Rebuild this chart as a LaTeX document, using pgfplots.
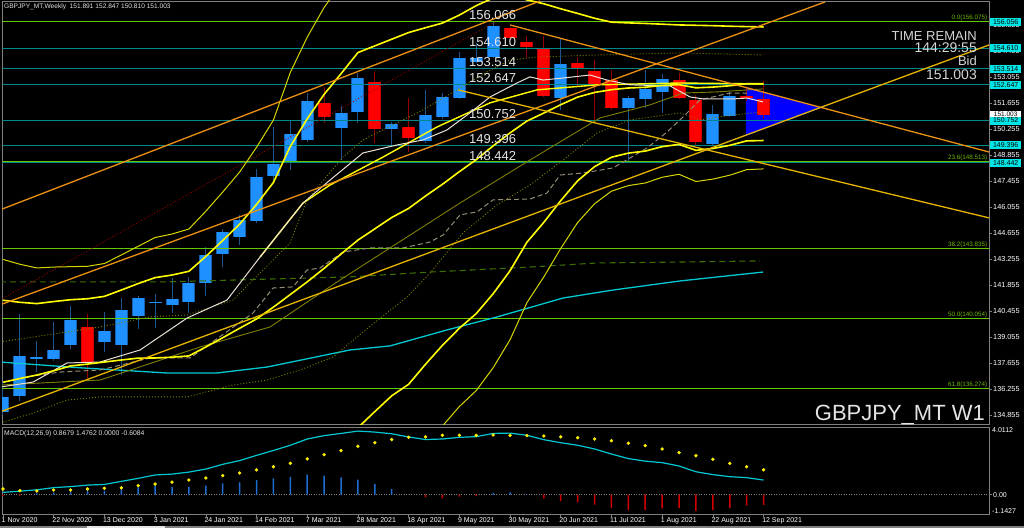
\documentclass[border=0pt]{standalone}
\usepackage{pgfplots}
\pgfplotsset{compat=1.18}
\usepackage{pgfplotstable}
\usepackage{fontspec}
\setmainfont{Liberation Sans}
\definecolor{fibgreen}{RGB}{100,200,0}
\definecolor{fibtext}{RGB}{110,185,0}
\definecolor{tealline}{RGB}{0,135,135}
\definecolor{bodyblue}{RGB}{30,144,255}
\definecolor{edgeblue}{RGB}{25,95,175}
\definecolor{wickblue}{RGB}{30,85,145}
\definecolor{bodyred}{RGB}{255,0,0}
\definecolor{edgered}{RGB}{200,0,0}
\definecolor{wickred}{RGB}{150,0,0}
\definecolor{brightyel}{RGB}{255,255,0}
\definecolor{thinyel}{RGB}{215,215,0}
\definecolor{olivec}{RGB}{128,128,0}
\definecolor{darkredc}{RGB}{150,0,0}
\definecolor{tanc}{RGB}{150,140,120}
\definecolor{whitema}{RGB}{235,225,215}
\definecolor{cyanma}{RGB}{0,200,210}
\definecolor{greendash}{RGB}{60,110,0}
\definecolor{orangec}{RGB}{235,145,20}
\definecolor{goldc}{RGB}{230,180,0}
\definecolor{boxcyan}{RGB}{0,230,230}
\definecolor{histblue}{RGB}{30,110,210}
\definecolor{histred}{RGB}{210,0,0}
\definecolor{lbl}{RGB}{228,228,228}
\newcommand{\fs}[1]{\fontsize{#1}{#1}\selectfont}

\pgfplotstableread{
i o h l c
0 135.02 136.63 134.86 135.83
1 135.88 140.30 135.61 138.04
2 137.87 138.84 137.17 137.98
3 137.87 139.87 137.77 138.36
4 138.63 140.73 138.41 139.98
6 138.79 140.41 138.25 139.38
7 138.63 141.16 137.01 140.52
8 140.19 141.27 139.49 141.16
9 140.89 141.38 139.55 140.95
10 140.79 142.24 140.35 141.11
11 140.95 142.29 140.35 141.97
12 141.97 143.91 141.27 143.48
13 143.53 144.88 142.83 144.72
14 144.45 145.64 144.02 145.37
15 145.31 148.12 145.21 147.69
16 147.74 150.38 147.36 148.39
17 148.44 150.70 148.06 150.00
18 149.68 152.21 149.57 151.78
20 150.33 151.51 148.60 151.14
21 151.19 153.29 150.60 153.02
23 150.27 150.65 149.41 150.54
25 149.63 152.38 149.52 151.03
26 150.92 152.21 150.81 152.00
27 151.94 154.42 151.89 154.10
28 153.89 154.91 153.83 154.10
29 154.16 156.07 154.10 155.83
33 151.94 155.13 151.30 153.78
37 151.41 152.05 148.44 151.94
38 151.89 153.45 151.41 152.43
39 152.27 153.24 151.14 152.97
42 149.46 151.57 149.36 151.08
43 150.97 152.27 150.92 152.05
}\bull

\pgfplotstableread{
i o h l c
5 139.60 140.30 136.80 137.71
19 151.67 152.54 150.60 150.92
22 152.81 153.35 149.52 150.27
24 150.38 151.94 149.03 149.79
30 155.72 155.77 155.07 155.18
31 154.96 155.29 154.10 154.69
32 154.59 155.29 152.00 152.05
34 153.83 154.16 152.54 153.51
35 153.40 153.99 150.76 152.65
36 152.91 153.45 151.30 151.41
40 152.91 153.29 151.89 151.94
41 151.84 152.11 149.41 149.57
44 152.05 152.48 151.78 151.94
45 151.891 152.847 150.810 151.003
}\bear

\pgfplotstableread{
i mid up2 lo2 up3 lo3
0 136.62 141.04 132.21 143.24 130.00
1 136.82 140.93 132.71 142.98 130.66
2 137.01 140.86 133.16 142.78 131.24
3 137.24 140.97 133.52 142.83 131.65
4 137.50 141.07 133.93 142.85 132.15
5 137.60 141.12 134.09 142.87 132.33
6 137.71 141.25 134.17 143.02 132.40
7 137.82 141.59 134.05 143.48 132.16
8 137.92 141.94 133.90 143.95 131.89
9 137.93 142.26 133.60 144.42 131.44
10 137.97 142.40 133.54 144.61 131.33
11 138.04 142.60 133.48 144.88 131.20
12 138.52 143.40 133.64 145.84 131.20
13 139.02 144.26 133.79 146.87 131.17
14 139.53 145.14 133.92 147.95 131.11
15 140.03 146.20 133.86 149.28 130.78
16 140.67 147.39 133.95 150.75 130.59
17 141.35 149.33 133.37 153.32 129.38
18 142.03 150.82 133.24 155.22 128.85
19 142.76 152.14 133.39 156.82 128.70
20 143.53 153.25 133.81 158.11 128.95
21 144.28 154.39 134.17 159.44 129.12
22 144.89 154.75 135.04 159.67 130.11
23 145.50 155.11 135.89 159.92 131.08
24 145.99 155.47 136.51 160.21 131.77
25 146.66 155.73 137.59 160.26 133.06
26 147.29 155.98 138.61 160.32 134.26
27 147.97 156.41 139.53 160.63 135.31
28 148.62 156.92 140.32 161.07 136.17
29 149.36 157.33 141.39 161.32 137.40
30 150.06 157.49 142.63 161.21 138.91
31 150.70 157.23 144.17 160.49 140.91
32 151.13 157.02 145.24 159.96 142.30
33 151.58 156.75 146.41 159.34 143.83
34 151.99 156.50 147.48 158.75 145.23
35 152.24 156.24 148.24 158.24 146.24
36 152.39 156.03 148.75 157.86 146.92
37 152.48 155.99 148.97 157.75 147.22
38 152.52 155.96 149.08 157.68 147.36
39 152.62 155.92 149.32 157.57 147.67
40 152.66 155.88 149.44 157.49 147.83
41 152.49 155.86 149.12 157.54 147.44
42 152.53 155.84 149.22 157.50 147.57
43 152.60 155.81 149.39 157.42 147.78
44 152.71 155.79 149.63 157.34 148.08
45 152.71 155.77 149.65 157.30 148.12
}\bb

\pgfplotstableread{
i macd sig
0 0.14 0.34
1 0.21 0.24
2 0.29 0.22
3 0.42 0.28
4 0.48 0.28
5 0.57 0.34
6 0.61 0.38
7 0.79 0.41
8 0.97 0.54
9 1.17 0.63
10 1.22 0.75
11 1.34 0.87
12 1.52 0.99
13 1.80 1.13
14 2.02 1.29
15 2.33 1.47
16 2.62 1.66
17 2.93 1.86
18 3.30 2.12
19 3.50 2.37
20 3.63 2.61
21 3.77 2.87
22 3.71 3.08
23 3.61 3.27
24 3.42 3.40
25 3.27 3.43
26 3.30 3.52
27 3.40 3.52
28 3.44 3.52
29 3.63 3.54
30 3.65 3.52
31 3.52 3.50
32 3.26 3.48
33 3.08 3.43
34 2.93 3.38
35 2.71 3.30
36 2.41 3.20
37 2.14 3.05
38 1.99 2.91
39 1.90 2.71
40 1.70 2.49
41 1.36 2.31
42 1.19 2.10
43 1.07 1.86
44 1.01 1.66
45 0.8679 1.4762
}\macd

\begin{document}
\begin{tikzpicture}[x=1pt,y=1pt]
\fill[black] (0,0) rectangle (1024,528);
\useasboundingbox (0,0) rectangle (1024,528);

\begin{axis}[
 at={(2pt,103.5pt)}, anchor=south west, scale only axis,
 width=987pt, height=423.5pt,
 xmin=-0.059, xmax=58.34, ymin=134.343, ymax=157.17,
 axis background/.style={fill=black},
 axis line style={draw=gray, line width=0.8pt},
 xtick=\empty,
 ytick={134.855,136.255,137.655,139.055,140.455,141.855,143.255,144.655,146.055,147.455,148.855,150.255,151.655,153.055,154.455,155.855},
 yticklabels={134.855,136.255,137.655,139.055,140.455,141.855,143.255,144.655,146.055,147.455,148.855,150.255,151.655,153.055,154.455,155.855},
 ytick pos=right, yticklabel pos=right,
 tick align=outside, major tick length=3pt,
 tick style={draw=gray, line width=0.6pt},
 yticklabel style={font=\fs{7.3}, text=white, inner sep=0pt, xshift=1pt},
 clip mode=individual,
]
% triangle
\addplot[fill=blue, draw=none] coordinates {(43.96,152.52) (43.96,149.90) (48.4,151.40) (43.96,152.52)};
% candles: wicks
\addplot[draw=none, mark=none, forget plot, error bars/.cd, y dir=minus, y explicit, error mark=none,
  error bar style={draw=wickblue, line width=1pt}] table[x=i, y=h, y error minus expr=\thisrow{h}-\thisrow{l}] {\bull};
\addplot[draw=none, mark=none, forget plot, error bars/.cd, y dir=minus, y explicit, error mark=none,
  error bar style={draw=wickred, line width=1pt}] table[x=i, y=h, y error minus expr=\thisrow{h}-\thisrow{l}] {\bear};
% bodies
\addplot[draw=none, mark=none, forget plot, error bars/.cd, y dir=minus, y explicit, error mark=none,
  error bar style={draw=edgeblue, line width=13pt}] table[x=i, y=c, y error minus expr=\thisrow{c}-\thisrow{o}] {\bull};
\addplot[draw=none, mark=none, forget plot, error bars/.cd, y dir=minus, y explicit, error mark=none,
  error bar style={draw=bodyblue, line width=11pt}] table[x=i, y=c, y error minus expr=\thisrow{c}-\thisrow{o}] {\bull};
\addplot[draw=none, mark=none, forget plot, error bars/.cd, y dir=minus, y explicit, error mark=none,
  error bar style={draw=edgered, line width=13pt}] table[x=i, y=o, y error minus expr=\thisrow{o}-\thisrow{c}] {\bear};
\addplot[draw=none, mark=none, forget plot, error bars/.cd, y dir=minus, y explicit, error mark=none,
  error bar style={draw=bodyred, line width=11pt}] table[x=i, y=o, y error minus expr=\thisrow{o}-\thisrow{c}] {\bear};

% horizontal levels
\foreach \p in {156.075,148.513,143.835,140.054,136.274}{
 \edef\temp{\noexpand\addplot[fibgreen, line width=1.4pt] coordinates {(-1,\p) (60,\p)};}\temp
}
\foreach \p in {154.610,153.514,152.647,150.752,149.396,148.442}{
 \edef\temp{\noexpand\addplot[tealline, line width=1pt] coordinates {(-1,\p) (60,\p)};}\temp
}

% MAs
\addplot[greendash, line width=1.1pt, dash pattern=on 6pt off 4pt] coordinates {(-0.18,142.03) (9.70,142.03) (13.61,142.13) (20.53,142.30) (25.27,142.56) (31.18,142.83) (35.15,143.05) (40.06,143.10) (44.79,143.16)};
\addplot[cyanma, line width=1.3pt] coordinates {(-0.18,137.71) (4.73,137.39) (9.70,137.12) (12.66,137.12) (15.62,137.44) (20.53,138.36) (22.90,138.58) (26.27,139.44) (29.23,140.14) (33.14,141.16) (36.09,141.59) (40.06,142.08) (44.97,142.56)};
\addplot[darkredc, line width=0.9pt, dash pattern=on 1pt off 2pt] coordinates {(-0.18,141.05) (29.11,156.04)};
\addplot[olivec, line width=0.9pt, dash pattern=on 1pt off 2pt] coordinates {(-0.18,138.79) (5.74,139.60) (8.70,140.14) (10.89,140.25) (13.61,141.05) (16.98,144.13) (17.99,146.45) (20.12,148.76) (21.30,149.68) (23.31,150.60) (24.85,151.30) (26.86,152.38) (28.64,153.35) (30.0,153.99) (31.60,154.15) (35.15,154.26) (40.06,154.37) (44.97,154.26)};
\addplot[olivec, line width=0.9pt, dash pattern=on 1pt off 2pt] coordinates {(-0.18,134.42) (1.78,134.96) (3.79,135.66) (5.74,135.83) (10.89,135.83) (13.61,136.47) (15.62,136.74) (17.57,137.28) (19.53,137.98) (21.30,139.33) (23.91,141.22) (25.27,142.51) (27.22,144.67) (29.23,146.18) (31.18,147.25) (33.14,148.60) (35.15,150.06) (37.10,150.76) (40.06,151.14) (41.24,150.76) (43.20,151.03) (44.97,151.19)};
\addplot[olivec, line width=0.9pt] coordinates {(-0.18,136.47) (5.74,136.74) (11.66,138.52) (15.80,139.60) (19.94,142.13) (27.04,146.28) (31.18,148.60) (35.33,150.87) (38.28,151.57) (40.24,152.21) (42.25,152.27) (44.97,152.43)};
\addplot[tanc, line width=1pt, dash pattern=on 5pt off 3pt] coordinates {(1.0,136.85) (3.37,137.17) (5.74,137.28) (8.70,137.93) (11.07,137.93) (14.79,140.35) (15.98,141.70) (17.16,141.76) (17.99,142.67) (18.76,142.78) (20.12,143.64) (21.72,143.86) (23.67,143.86) (25.27,144.18) (26.04,144.56) (27.04,145.64) (28.05,145.80) (28.99,146.45) (31.18,146.50) (32.19,146.82) (32.96,147.79) (34.32,147.90) (36.09,148.17) (38.11,149.25) (39.29,150.11) (40.24,150.92) (41.24,151.84) (43.02,152.21) (44.02,152.21)};
% yellow average running beside the white one
\addplot[brightyel, line width=1.4pt] coordinates {(15.21,143.37) (17.75,146.28) (19.35,147.25) (22.49,148.76) (25.68,150.38) (28.82,151.68) (31.60,152.38) (35.15,152.65) (40.06,152.75) (44.97,152.70)};
\addplot[whitema, line width=1pt] coordinates {(-0.18,136.36) (1.78,136.63) (3.79,137.66) (5.74,137.71) (8.11,138.36) (10.89,140.08) (13.25,141.05) (15.21,143.37) (17.75,146.28) (19.35,147.52) (21.30,148.98) (23.31,149.41) (24.85,149.68) (26.27,150.22) (27.63,151.14) (28.82,152.00) (30.41,152.75) (31.18,153.08) (31.95,152.91) (33.14,153.02) (34.73,153.18) (35.74,152.91) (37.10,152.65) (39.47,152.59) (40.65,152.00) (41.42,151.89) (43.20,151.89) (44.02,151.94) (44.97,151.73)};
% Bollinger bands
\addplot[thinyel, line width=1pt] table[x=i, y=up3] {\bb};
\addplot[thinyel, line width=1pt] table[x=i, y=lo3] {\bb};
\addplot[brightyel, line width=1.6pt] table[x=i, y=up2] {\bb};
\addplot[brightyel, line width=1.6pt] table[x=i, y=lo2] {\bb};
\addplot[brightyel, line width=1.6pt] table[x=i, y=mid] {\bb};
% trend lines
\addplot[orangec, line width=1.3pt] coordinates {(-0.18,145.91) (31.78,157.17)};
\addplot[orangec, line width=1.3pt] coordinates {(30.0,155.88) (58.34,149.03)};
\addplot[orangec, line width=1.3pt] coordinates {(-0.18,140.79) (48.64,157.12)};
\addplot[goldc, line width=1.3pt] coordinates {(-0.18,135.02) (58.34,154.80)};
\addplot[goldc, line width=1.3pt] coordinates {(26.92,152.38) (58.34,145.48)};

% big labels
\foreach \p/\t in {156.066/156.066,154.610/154.610,153.514/153.514,152.647/152.647,150.752/150.752,149.396/149.396,148.442/148.442}{
 \edef\temp{\noexpand\node[anchor=base west, text=lbl, font=\noexpand\fs{13}, inner sep=0pt, yshift=2pt] at (axis cs:27.57,\p) {\t};}\temp
}
% fib labels
\foreach \p/\t in {156.075/0.0(156.075),148.513/23.6(148.513),143.835/38.2(143.835),140.054/50.0(140.054),136.274/61.8(136.274)}{
 \edef\temp{\noexpand\node[anchor=base east, text=fibtext, font=\noexpand\fs{6.3}, inner sep=0pt, yshift=2pt, xshift=-1.5pt] at (axis cs:58.34,\p) {\t};}\temp
}
\coordinate (b0) at (axis cs:58.34,151.003);
\coordinate (b1) at (axis cs:58.34,156.056);
\coordinate (b2) at (axis cs:58.34,154.610);
\coordinate (b3) at (axis cs:58.34,153.514);
\coordinate (b4) at (axis cs:58.34,152.647);
\coordinate (b5) at (axis cs:58.34,150.752);
\coordinate (b6) at (axis cs:58.34,149.396);
\coordinate (b7) at (axis cs:58.34,148.442);
\end{axis}

% MACD panel
\begin{axis}[
 at={(2pt,14pt)}, anchor=south west, scale only axis,
 width=987pt, height=87pt,
 xmin=-0.059, xmax=58.34, ymin=-1.1427, ymax=4.0112,
 axis background/.style={fill=black},
 axis line style={draw=gray, line width=0.8pt},
 xtick={0,3,...,45},
 xticklabels={1 Nov 2020,22 Nov 2020,13 Dec 2020,3 Jan 2021,24 Jan 2021,14 Feb 2021,7 Mar 2021,28 Mar 2021,18 Apr 2021,9 May 2021,30 May 2021,20 Jun 2021,11 Jul 2021,1 Aug 2021,22 Aug 2021,12 Sep 2021},
 xtick pos=left, ytick pos=right, yticklabel pos=right,
 ytick={0}, yticklabels={0.00},
 tick align=outside, major tick length=3pt,
 tick style={draw=gray, line width=0.6pt},
 xticklabel style={anchor=north west, font=\fs{7}, text=white, inner sep=0pt, xshift=-1.5pt, yshift=-0.5pt},
 yticklabel style={font=\fs{7}, text=white, inner sep=0pt, xshift=1pt},
 clip mode=individual,
]
\addplot[gray, line width=0.7pt, dash pattern=on 1pt off 1.5pt] coordinates {(-1,0) (60,0)};
\addplot[ybar, bar width=1.5pt, bar shift=0pt, fill=histblue, draw=none] coordinates {(2,0.08) (3,0.14) (4,0.20) (5,0.24) (6,0.24) (7,0.38) (8,0.43) (9,0.54) (10,0.47) (11,0.47) (12,0.54) (13,0.67) (14,0.73) (15,0.87) (16,0.97) (17,1.06) (18,1.19) (19,1.13) (20,1.03) (21,0.90) (22,0.63) (23,0.34) (24,0.02) (29,0.11) (30,0.14) (31,0.02)};
\addplot[ybar, bar width=1.5pt, bar shift=0pt, fill=histred, draw=none] coordinates {(0,-0.09) (1,-0.05) (25,-0.16) (26,-0.22) (27,-0.12) (28,-0.08) (32,-0.22) (33,-0.36) (34,-0.45) (35,-0.59) (36,-0.79) (37,-0.91) (38,-0.91) (39,-0.81) (40,-0.79) (41,-0.95) (42,-0.91) (43,-0.79) (44,-0.65) (45,-0.6084)};
\addplot[cyanma, line width=1.2pt] table[x=i, y=macd] {\macd};
\addplot[only marks, mark=*, mark size=1.5pt, color=yellow] table[x=i, y=sig] {\macd};
\node[anchor=north west, font=\fs{7}, text=white, inner sep=0pt] at (axis cs:58.34,4.0112) {\hspace{3pt}4.0112};
\node[anchor=south west, font=\fs{7}, text=white, inner sep=0pt] at (axis cs:58.34,-1.1427) {\hspace{3pt}-1.1427};
\end{axis}

% price boxes
\tikzset{pbox/.style={fill=boxcyan, text=black, font=\fs{7}, inner xsep=1.5pt, inner ysep=0pt, minimum height=8pt, minimum width=31pt, anchor=west}}
\node[pbox, fill=white, minimum height=6.5pt, font=\fs{6.5}] at ([xshift=1pt,yshift=1pt]b0) {151.003};
\node[pbox] at ([xshift=1pt]b1) {156.056};
\node[pbox] at ([xshift=1pt]b2) {154.610};
\node[pbox] at ([xshift=1pt]b3) {153.514};
\node[pbox] at ([xshift=1pt]b4) {152.647};
\node[pbox] at ([xshift=1pt,yshift=-0.5pt]b5) {150.752};
\node[pbox] at ([xshift=1pt]b6) {149.396};
\node[pbox] at ([xshift=1pt]b7) {148.442};

% texts
\node[anchor=north west, font=\fs{6.6}, text=lbl, inner sep=0pt] at (4,524) {GBPJPY\_MT,Weekly\ \ 151.891 152.847 150.810 151.003};
\node[anchor=north west, font=\fs{6.8}, text=lbl, inner sep=0pt] at (4,98) {MACD(12,26,9) 0.8679 1.4762 0.0000 -0.6084};
\node[anchor=base east, font=\fs{13}, text=lbl!85!gray, inner sep=0pt] at (977,487) {TIME REMAIN};
\node[anchor=base east, font=\fs{14}, text=lbl!85!gray, inner sep=0pt] at (977,475) {144:29:55};
\node[anchor=base east, font=\fs{13}, text=lbl!85!gray, inner sep=0pt] at (977,462) {Bid};
\node[anchor=base east, font=\fs{14}, text=lbl!85!gray, inner sep=0pt] at (977,448) {151.003};
\node[anchor=base east, font=\fs{22}, text=lbl, inner sep=0pt] at (985,108) {GBPJPY\_MT W1};
\fill[gray] (0,0) rectangle (1024,2);
\fill[white!80!gray] (87,0) rectangle (165,2);
\end{tikzpicture}
\end{document}
